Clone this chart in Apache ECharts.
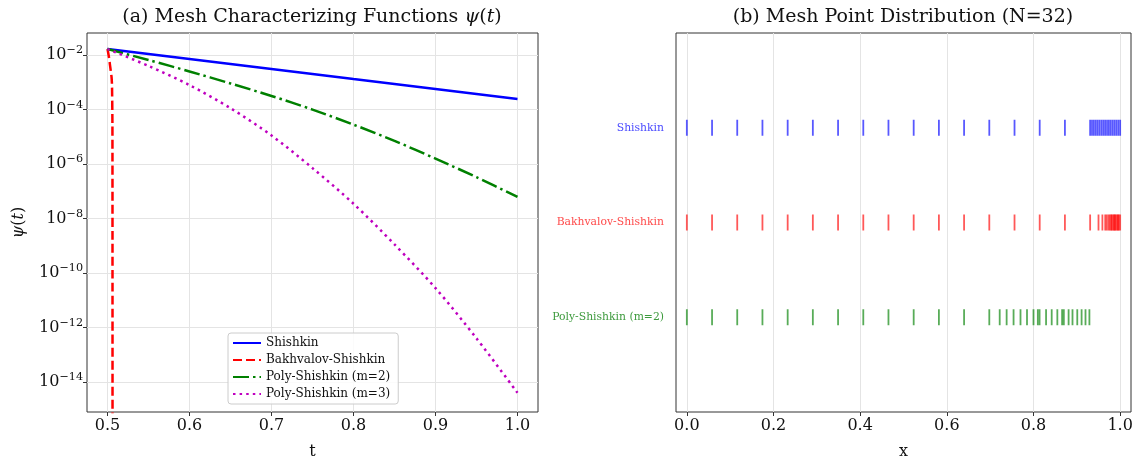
<!DOCTYPE html>
<html><head><meta charset="utf-8">
<script src="https://cdn.jsdelivr.net/npm/echarts@6/dist/echarts.min.js"></script>
<style>html,body{margin:0;padding:0;background:#fff}#c{width:1137px;height:457px}</style>
</head><body><div id="c"></div>
<script>
// ---------- Panel (a): characterizing functions psi(t) ----------
const tGrid = [0.5, 0.55, 0.6, 0.65, 0.7, 0.75, 0.8, 0.85, 0.9, 0.95, 1.0];
const psiShishkin = [1.66e-2, 1.09e-2, 7.14e-3, 4.69e-3, 3.08e-3, 2.02e-3, 1.32e-3, 8.69e-4, 5.70e-4, 3.74e-4, 2.45e-4];
const psiPoly2 = [1.66e-2, 6.6e-3, 2.51e-3, 9.1e-4, 3.16e-4, 1.0e-4, 2.8e-5, 7.1e-6, 1.58e-6, 3.3e-7, 6.2e-8];
const psiPoly3 = [1.66e-2, 4.0e-3, 7.9e-4, 1.12e-4, 1.12e-5, 7.1e-7, 3.5e-8, 1.12e-9, 2.8e-11, 4.0e-13, 4.0e-15];
const tBakh = [0.5, 0.501, 0.502, 0.503, 0.504, 0.505, 0.5055, 0.506, 0.5061, 0.5062];
const psiBakh = [1.66e-2, 1.15e-2, 7.6e-3, 4.4e-3, 2.6e-3, 1.5e-3, 7.5e-4, 3e-5, 1e-10, 1e-30];
const tTicks = [0.5, 0.6, 0.7, 0.8, 0.9, 1.0];
const psiTicks = [1e-14, 1e-12, 1e-10, 1e-8, 1e-6, 1e-4, 1e-2];

// ---------- Panel (b): mesh points, N=32 ----------
const meshNames = ['Poly-Shishkin (m=2)', 'Bakhvalov-Shishkin', 'Shishkin'];
const meshShishkin = [0, 0.0582, 0.1163, 0.1745, 0.2327, 0.2908, 0.349, 0.4072, 0.4653, 0.5235, 0.5817, 0.6398, 0.698, 0.7562, 0.8143, 0.8725, 0.9307,
  0.935, 0.9393, 0.9437, 0.948, 0.9523, 0.9567, 0.961, 0.9653, 0.9697, 0.974, 0.9783, 0.9827, 0.987, 0.9913, 0.9957, 1.0];
const meshBakh = [0, 0.0582, 0.1163, 0.1745, 0.2327, 0.2908, 0.349, 0.4072, 0.4653, 0.5235, 0.5817, 0.6398, 0.698, 0.7562, 0.8143, 0.8725, 0.9307,
  0.950, 0.959, 0.9655, 0.969, 0.973, 0.976, 0.979, 0.981, 0.984, 0.986, 0.988, 0.990, 0.993, 0.995, 0.997, 1.0];
const meshPoly2 = [0, 0.0582, 0.1163, 0.1745, 0.2327, 0.2908, 0.349, 0.4072, 0.4653, 0.5235, 0.5817, 0.6398, 0.698,
  0.722, 0.738, 0.754, 0.770, 0.785, 0.800, 0.810, 0.814, 0.829, 0.842, 0.855, 0.866, 0.870, 0.881, 0.890, 0.901, 0.911, 0.920, 0.929];
const xTicks = [0, 0.2, 0.4, 0.6, 0.8, 1.0];
const meshLevels = [0, 1, 2];

const FONT = 'DejaVu Serif';
const TXT = '#111';
const meshLabelColors = ['#3d9a3d', '#ff4a4a', '#4a4aff'];
const meshMarkColors = ['rgba(0,128,0,0.82)', 'rgba(255,0,0,0.82)', 'rgba(0,0,255,0.82)'];

const chart = echarts.init(document.getElementById('c'), null, {renderer: 'canvas'});

function pairs(xs, ys) { return xs.map((x, i) => [x, ys[i]]); }
function meshData(arr, level) { return arr.map(x => [x, level]); }

const tickStyle = {show: true, length: 4, lineStyle: {color: '#333', width: 1}};
const splitStyle = {show: true, lineStyle: {color: '#e4e4e4', width: 1}};
const noLine = {show: false, onZero: false};

const option = {
  backgroundColor: '#fff',
  animation: false,
  title: [
    {text: '(a) Mesh Characterizing Functions {i|ψ}({i|t})', left: 312, top: 8, textAlign: 'center', padding: 0,
     textStyle: {fontFamily: FONT, fontSize: 19, fontWeight: 'normal', color: TXT,
       rich: {i: {fontFamily: FONT, fontStyle: 'italic', fontSize: 19, color: TXT}}}},
    {text: '(b) Mesh Point Distribution (N=32)', left: 903, top: 8, textAlign: 'center', padding: 0,
     textStyle: {fontFamily: FONT, fontSize: 19, fontWeight: 'normal', color: TXT}}
  ],
  grid: [
    {left: 87, top: 33, width: 451, height: 379, show: true, borderColor: '#333', borderWidth: 1, backgroundColor: 'transparent',
     containLabel: false, outerBoundsMode: 'none'},
    {left: 676, top: 33, width: 455, height: 379, show: true, borderColor: '#333', borderWidth: 1, backgroundColor: 'transparent',
     containLabel: false, outerBoundsMode: 'none'}
  ],
  legend: {
    data: ['Shishkin', 'Bakhvalov-Shishkin', 'Poly-Shishkin (m=2)', 'Poly-Shishkin (m=3)'],
    orient: 'vertical', left: 228, top: 333, itemWidth: 28, itemHeight: 12, itemGap: 5,
    padding: [4, 8, 4, 4], backgroundColor: 'rgba(255,255,255,0.85)', borderColor: '#cccccc', borderWidth: 1, borderRadius: 3,
    itemStyle: {opacity: 0},
    textStyle: {fontFamily: FONT, fontSize: 12, color: TXT}
  },
  xAxis: [
    {type: 'value', gridIndex: 0, min: 0.475, max: 1.025, name: 't', nameLocation: 'middle', nameGap: 32,
     nameTextStyle: {fontFamily: FONT, fontSize: 16, color: TXT},
     axisLine: noLine, axisTick: Object.assign({customValues: tTicks}, tickStyle), splitLine: splitStyle,
     axisLabel: {customValues: tTicks, fontFamily: FONT, fontSize: 16, color: TXT, margin: 6, formatter: v => v.toFixed(1)}},
    {type: 'value', gridIndex: 1, min: -0.025, max: 1.025, name: 'x', nameLocation: 'middle', nameGap: 32,
     nameTextStyle: {fontFamily: FONT, fontSize: 16, color: TXT},
     axisLine: noLine, axisTick: Object.assign({customValues: xTicks}, tickStyle), splitLine: splitStyle,
     axisLabel: {customValues: xTicks, fontFamily: FONT, fontSize: 16, color: TXT, margin: 6, formatter: v => v.toFixed(1)}}
  ],
  yAxis: [
    {type: 'log', logBase: 100, gridIndex: 0, min: 7.94e-16, max: 0.0646, name: '{i|ψ}({i|t})', nameLocation: 'middle', nameGap: 60,
     nameRotate: 90, nameTextStyle: {fontFamily: FONT, fontSize: 16, color: TXT, rich: {i: {fontFamily: FONT, fontStyle: 'italic', fontSize: 16, color: TXT}}},
     axisLine: noLine, axisTick: Object.assign({customValues: psiTicks}, tickStyle), splitLine: splitStyle,
     axisLabel: {customValues: psiTicks, margin: 4,
       formatter: v => { const e = Math.round(Math.log10(v)); return '{b|10}{s|−' + (-e) + '}'; },
       rich: {b: {fontFamily: FONT, fontSize: 16, color: TXT, lineHeight: 20},
              s: {fontFamily: FONT, fontSize: 11.2, color: TXT, verticalAlign: 'top', lineHeight: 11}}}},
    {type: 'value', gridIndex: 1, min: -1, max: 3,
     axisLine: noLine, axisTick: {show: false}, splitLine: {show: false},
     axisLabel: {customValues: meshLevels, margin: 12,
       formatter: v => { const k = Math.round(v); const n = meshNames[k]; return n ? '{c' + k + '|' + n + '}' : ''; },
       rich: {c0: {fontFamily: FONT, fontSize: 10.8, color: meshLabelColors[0]},
              c1: {fontFamily: FONT, fontSize: 10.8, color: meshLabelColors[1]},
              c2: {fontFamily: FONT, fontSize: 10.8, color: meshLabelColors[2]}}}}
  ],
  series: [
    {name: 'Shishkin', type: 'line', xAxisIndex: 0, yAxisIndex: 0, data: pairs(tGrid, psiShishkin), symbol: 'none', smooth: false,
     lineStyle: {color: '#0000ff', width: 2.5}, itemStyle: {color: '#0000ff'}},
    {name: 'Bakhvalov-Shishkin', type: 'line', xAxisIndex: 0, yAxisIndex: 0, data: pairs(tBakh, psiBakh), symbol: 'none', smooth: 0.2,
     lineStyle: {color: '#ff0000', width: 2.5, type: [9, 4]}, itemStyle: {color: '#ff0000'}},
    {name: 'Poly-Shishkin (m=2)', type: 'line', xAxisIndex: 0, yAxisIndex: 0, data: pairs(tGrid, psiPoly2), symbol: 'none', smooth: 0.3,
     lineStyle: {color: '#008000', width: 2.5, type: [16, 4, 2.5, 4]}, itemStyle: {color: '#008000'}},
    {name: 'Poly-Shishkin (m=3)', type: 'line', xAxisIndex: 0, yAxisIndex: 0, data: pairs(tGrid, psiPoly3), symbol: 'none', smooth: 0.3,
     lineStyle: {color: '#bf00bf', width: 2.5, type: [2.5, 4.1]}, itemStyle: {color: '#bf00bf'}},
    {name: 'mesh-poly2', type: 'scatter', xAxisIndex: 1, yAxisIndex: 1, data: meshData(meshPoly2, 0), symbol: 'rect', symbolSize: [1.8, 16],
     itemStyle: {color: meshMarkColors[0]}, silent: true},
    {name: 'mesh-bakh', type: 'scatter', xAxisIndex: 1, yAxisIndex: 1, data: meshData(meshBakh, 1), symbol: 'rect', symbolSize: [1.8, 16],
     itemStyle: {color: meshMarkColors[1]}, silent: true},
    {name: 'mesh-shishkin', type: 'scatter', xAxisIndex: 1, yAxisIndex: 1, data: meshData(meshShishkin, 2), symbol: 'rect', symbolSize: [1.8, 16],
     itemStyle: {color: meshMarkColors[2]}, silent: true}
  ]
};
chart.setOption(option);
</script>
</body></html>
